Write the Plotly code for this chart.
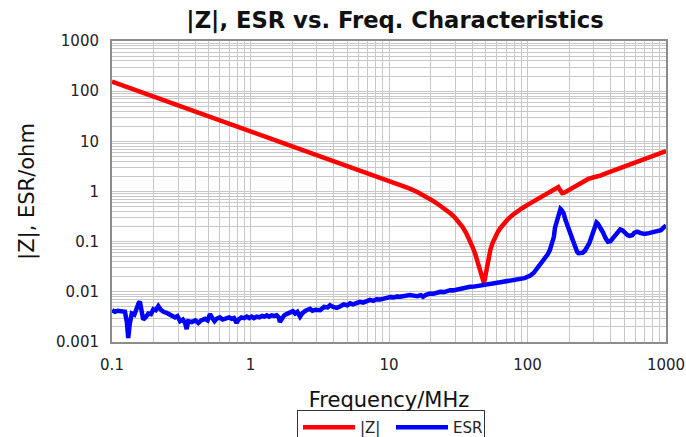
import plotly.graph_objects as go

# |Z| curve (frequency in MHz, impedance in ohm)
z_freq = [0.1, 0.2, 0.5, 1, 2, 2.47, 5, 10, 12, 14, 16, 18, 20, 22, 24, 26, 28, 30, 32,
          34, 36, 38, 40, 42, 44, 45.5, 46.5, 47.5, 48.3, 49, 49.6, 50.3, 51.2, 52.5, 54,
          56, 58, 61, 64, 68, 72, 78, 85, 92, 100, 108, 116, 125, 137, 146, 154, 160, 164,
          167, 170, 174, 178, 183, 190, 200, 215, 237, 255, 275, 297, 310, 323, 340, 360,
          394, 430, 465, 530, 618, 700, 809, 900, 1000]
z_vals = [155, 78, 31.5, 16, 8.1, 6.6, 3.3, 1.65, 1.36, 1.15, 0.98, 0.83, 0.69, 0.59,
          0.50, 0.43, 0.36, 0.30, 0.245, 0.195, 0.150, 0.112, 0.080, 0.056, 0.037, 0.027,
          0.021, 0.017, 0.0155, 0.017, 0.021, 0.028, 0.038, 0.053, 0.070, 0.095, 0.12,
          0.155, 0.19, 0.235, 0.28, 0.34, 0.41, 0.47, 0.54, 0.61, 0.68, 0.78, 0.9, 1.0,
          1.08, 1.17, 1.23, 1.22, 1.12, 0.98, 0.93, 0.94, 1.0, 1.08, 1.22, 1.42, 1.6, 1.78,
          1.9, 1.93, 1.97, 2.1, 2.25, 2.47, 2.7, 2.9, 3.3, 3.8, 4.4, 5.0, 5.7, 6.4]

# ESR curve (frequency in MHz, ESR in ohm)
esr_freq = [0.100, 0.105, 0.110, 0.114, 0.119, 0.124, 0.128, 0.131, 0.134, 0.139, 0.145,
            0.151, 0.156, 0.159, 0.163, 0.168, 0.175, 0.183, 0.191, 0.199, 0.207, 0.216,
            0.225, 0.235, 0.248, 0.262, 0.273, 0.285, 0.297, 0.310, 0.325, 0.337, 0.346,
            0.355, 0.376, 0.40, 0.42, 0.44, 0.469, 0.49, 0.51, 0.53, 0.55, 0.57, 0.60,
            0.63, 0.673, 0.70, 0.73, 0.76, 0.794, 0.82, 0.86, 0.90, 0.94, 0.98, 1.02, 1.06,
            1.11, 1.16, 1.21, 1.26, 1.31, 1.36, 1.42, 1.48, 1.545, 1.60, 1.63, 1.68, 1.75,
            1.82, 1.93, 2.02, 2.10, 2.18, 2.28, 2.38, 2.50, 2.60, 2.69, 2.80, 2.95, 3.18,
            3.40, 3.60, 3.75, 3.95, 4.20, 4.43, 4.70, 5.00, 5.23, 5.50, 5.85, 6.17, 6.50,
            6.90, 7.29, 7.70, 8.10, 8.61, 9.10, 9.60, 10.2, 10.8, 11.4, 12.0, 12.8, 13.5,
            14.2, 15.0, 16.0, 17.0, 17.6, 18.5, 19.8, 21.0, 22.2, 23.4, 25.0, 26.3, 27.6,
            29.0, 31.0, 32.6, 34.5, 36.5, 38.5, 41.0, 43.0, 45.4, 48.0, 50.5, 53.7, 58.0,
            62.0, 66.8, 72.0, 75.0, 78.0, 81.0, 84.0, 87.0, 90.0, 95.0, 99.0, 105, 111, 116,
            120, 125, 130, 135, 140, 145, 150, 155, 158, 162, 166, 170, 173, 176, 182, 188,
            197, 207, 219, 228, 233, 240, 250, 260, 270, 280, 290, 300, 307, 315, 323, 337,
            352, 366, 372, 381, 397, 413, 430, 453, 467, 486, 505, 527, 545, 570, 589, 620,
            658, 700, 750, 809, 870, 920, 960, 1000]
esr_vals = [0.0043, 0.0040, 0.0042, 0.0041, 0.0040, 0.0040, 0.0025, 0.0012, 0.0022, 0.0037,
            0.0035, 0.0050, 0.0060, 0.0064, 0.0045, 0.0028, 0.0031, 0.0037, 0.0036, 0.0045,
            0.0043, 0.0052, 0.0044, 0.0040, 0.0038, 0.0036, 0.0033, 0.0031, 0.0033, 0.0026,
            0.0028, 0.0024, 0.0018, 0.0026, 0.0025, 0.0027, 0.0024, 0.0027, 0.0029, 0.0027,
            0.0036, 0.0030, 0.0026, 0.0029, 0.0031, 0.0028, 0.0029, 0.0031, 0.0029, 0.0030,
            0.0024, 0.0028, 0.0031, 0.0030, 0.0032, 0.0030, 0.0032, 0.0030, 0.0032, 0.0031,
            0.0033, 0.0032, 0.0034, 0.0032, 0.0034, 0.0033, 0.0034, 0.0031, 0.0025, 0.0030,
            0.0034, 0.0036, 0.0039, 0.0041, 0.0037, 0.0040, 0.0032, 0.0038, 0.0042, 0.0044,
            0.0046, 0.0042, 0.0044, 0.0043, 0.0050, 0.0049, 0.0054, 0.0050, 0.0048, 0.0051,
            0.0056, 0.0054, 0.0059, 0.0056, 0.0061, 0.0063, 0.0061, 0.0066, 0.0069, 0.0066,
            0.0071, 0.0070, 0.0073, 0.0077, 0.0079, 0.0077, 0.0081, 0.0080, 0.0083, 0.0082,
            0.0086, 0.0084, 0.0082, 0.0086, 0.0080, 0.0087, 0.0093, 0.0092, 0.0096, 0.0100,
            0.0099, 0.0104, 0.0108, 0.0107, 0.0112, 0.0117, 0.0116, 0.0122, 0.0126, 0.0127,
            0.0130, 0.0133, 0.0136, 0.0139, 0.0141, 0.0146, 0.0150, 0.0156, 0.0160, 0.0163,
            0.0166, 0.0169, 0.0172, 0.0176, 0.0181, 0.0187, 0.0198, 0.0212, 0.0240, 0.0280,
            0.0320, 0.0360, 0.0420, 0.0480, 0.0560, 0.0680, 0.088, 0.125, 0.19, 0.25, 0.33,
            0.41, 0.45, 0.43, 0.37, 0.27, 0.19, 0.117, 0.080, 0.063, 0.059, 0.0586, 0.060,
            0.066, 0.078, 0.095, 0.125, 0.170, 0.215, 0.240, 0.225, 0.190, 0.150, 0.118,
            0.104, 0.100, 0.102, 0.115, 0.135, 0.160, 0.176, 0.168, 0.150, 0.135, 0.130,
            0.134, 0.150, 0.158, 0.148, 0.142, 0.148, 0.153, 0.158, 0.170, 0.190, 0.210,
            0.232]

# Axis tick labels
x_ticks = [0.1, 1, 10, 100, 1000]
x_labels = ["0.1", "1", "10", "100", "1000"]
y_ticks = [0.001, 0.01, 0.1, 1, 10, 100, 1000]
y_labels = ["0.001", "0.01", "0.1", "1", "10", "100", "1000"]

x_minor = [m * 10 ** e for e in range(-1, 3) for m in range(2, 10)]
y_minor = [m * 10 ** e for e in range(-3, 3) for m in range(2, 10)]

FONT = "DejaVu Sans"
GRID = "#c8c8c8"
FRAME = "#8c8c8c"

fig = go.Figure()
fig.add_trace(go.Scatter(x=z_freq, y=z_vals, mode="lines", name="|Z|",
                         line=dict(color="#ff0000", width=4.5)))
fig.add_trace(go.Scatter(x=esr_freq, y=esr_vals, mode="lines", name="ESR",
                         line=dict(color="#0000ff", width=4.5)))

fig.update_layout(
    width=686, height=437,
    margin=dict(l=112, r=20, t=41, b=95, autoexpand=False),
    paper_bgcolor="white", plot_bgcolor="white",
    font=dict(family=FONT, color="#222222", size=15),
    title=dict(text="<b>|Z|, ESR vs. Freq. Characteristics</b>",
               font=dict(family=FONT, size=22.7, color="#111111"),
               x=395 / 686, xanchor="center", y=0.953, yanchor="middle"),
    showlegend=True,
    legend=dict(orientation="h", x=(297 - 112) / 554, xanchor="left", y=-0.226,
                yanchor="top", bordercolor="#333333", borderwidth=1, bgcolor="white",
                font=dict(family=FONT, size=15, color="#222222"),
                itemwidth=52, entrywidth=26, tracegroupgap=0),
)

fig.update_xaxes(
    type="log", range=[-1, 3],
    tickmode="array", tickvals=x_ticks, ticktext=x_labels,
    ticks="", ticklen=0, ticklabelstandoff=8,
    showgrid=True, gridcolor=GRID, gridwidth=1,
    minor=dict(tickmode="array", tickvals=x_minor, showgrid=True,
               gridcolor=GRID, gridwidth=1, ticks=""),
    showline=True, linecolor=FRAME, linewidth=2, mirror=True,
    tickfont=dict(family=FONT, size=15, color="#222222"),
    title=dict(text="Frequency/MHz", font=dict(family=FONT, size=21, color="#111111"),
               standoff=19),
    zeroline=False,
)
fig.update_yaxes(
    type="log", range=[-3, 3],
    tickmode="array", tickvals=y_ticks, ticktext=y_labels,
    ticks="", ticklen=0, ticklabelstandoff=8,
    showgrid=True, gridcolor=GRID, gridwidth=1,
    minor=dict(tickmode="array", tickvals=y_minor, showgrid=True,
               gridcolor=GRID, gridwidth=1, ticks=""),
    showline=True, linecolor=FRAME, linewidth=2, mirror=True,
    tickfont=dict(family=FONT, size=15, color="#222222"),
    title=dict(text="|Z|, ESR/ohm", font=dict(family=FONT, size=21, color="#111111"),
               standoff=16),
    zeroline=False,
)

fig.write_html("out.html", config={"displayModeBar": False},
               post_script="document.body.style.margin='0px';document.body.style.overflow='hidden';")
